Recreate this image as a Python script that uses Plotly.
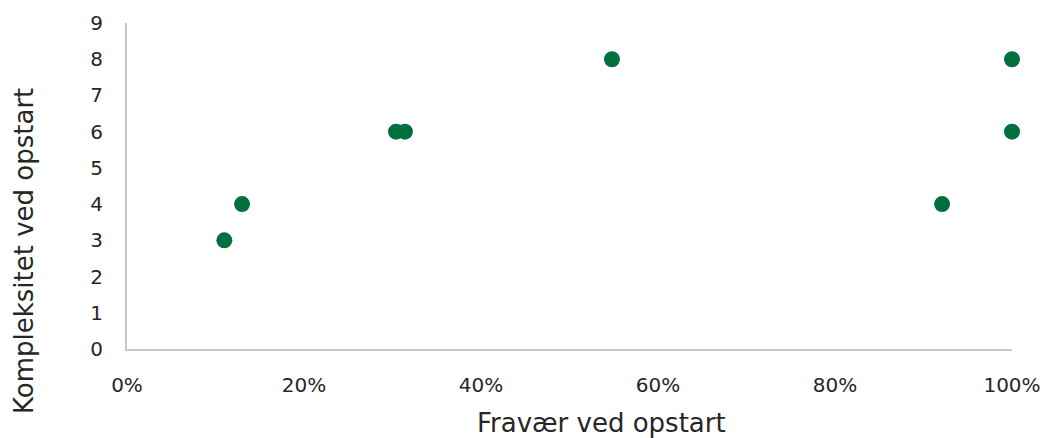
import plotly.graph_objects as go

fravaer = [0.11, 0.13, 0.304, 0.314, 0.548, 0.921, 1.0, 1.0]
kompleksitet = [3, 4, 6, 6, 8, 4, 6, 8]
x_ticks = [0, 0.2, 0.4, 0.6, 0.8, 1.0]
x_labels = ["0%", "20%", "40%", "60%", "80%", "100%"]
y_ticks = list(range(0, 10))

W, H = 1047, 438
L, R, T, B = 127, 35, 23, 89
font = "DejaVu Sans"
txt = "#262626"

fig = go.Figure()
fig.add_trace(go.Scatter(
    x=fravaer, y=kompleksitet, mode="markers",
    marker=dict(color="#00703C", size=16, line=dict(width=0)),
    cliponaxis=False, showlegend=False,
))

pw, ph = W - L - R, H - T - B


def px_x(x):
    return (x - L) / pw


def px_y(y):
    return (H - y - B) / ph


fig.update_layout(
    width=W, height=H,
    margin=dict(l=L, r=R, t=T, b=B, pad=0),
    paper_bgcolor="white", plot_bgcolor="white",
    font=dict(family=font, size=20, color=txt),
    xaxis=dict(range=[0, 1], tickvals=x_ticks, ticktext=x_labels,
               showgrid=False, zeroline=False, showline=True,
               linecolor="#C8C8C8", linewidth=2, ticks="",
               ticklabelstandoff=17, fixedrange=True, automargin=False),
    yaxis=dict(range=[0, 9], tickvals=y_ticks,
               showgrid=False, zeroline=False, showline=True,
               linecolor="#C8C8C8", linewidth=2, ticks="",
               ticklabelstandoff=18, fixedrange=True, automargin=False),
    annotations=[
        dict(text="Fravær ved opstart", x=px_x(601), y=px_y(423), xref="paper", yref="paper",
             xanchor="center", yanchor="middle",
             showarrow=False, font=dict(size=26, color=txt, family=font)),
        dict(text="Kompleksitet ved opstart", x=px_x(24), y=px_y(251), xref="paper", yref="paper",
             xanchor="center", yanchor="middle",
             textangle=-90, showarrow=False, font=dict(size=26, color=txt, family=font)),
    ],
)

fig.write_html("out.html", config={"displayModeBar": False},
               post_script="document.body.style.margin='0';")
